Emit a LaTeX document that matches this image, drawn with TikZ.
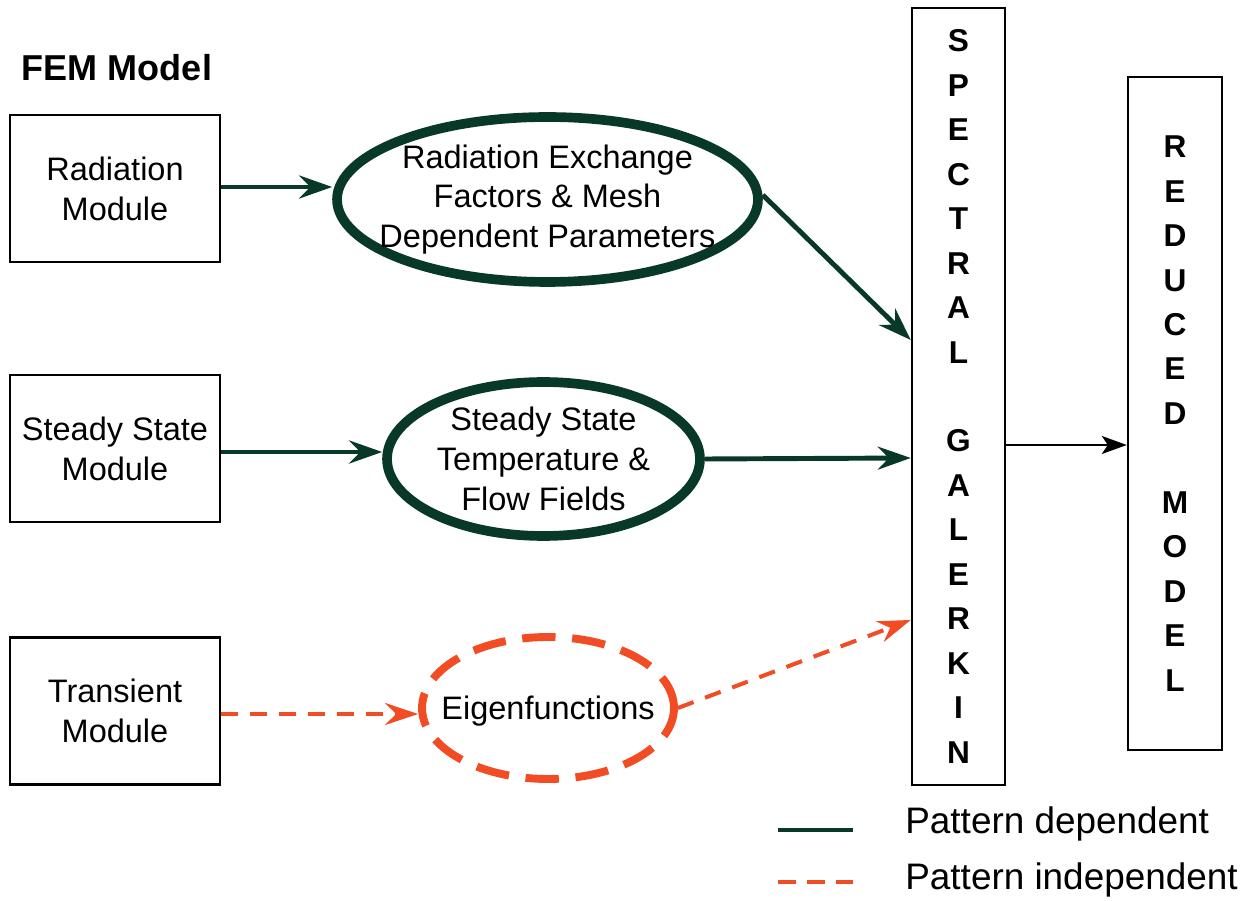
\documentclass[tikz,border=0pt]{standalone}
\usepackage{fontspec}
\setmainfont{Liberation Sans}
\usetikzlibrary{arrows.meta,positioning,shapes.geometric}

\definecolor{depgreen}{RGB}{8,56,40}
\definecolor{indorange}{RGB}{242,76,36}

\tikzset{
  module/.style={draw,line width=1.2pt,minimum width=4.2cm,minimum height=2.94cm,
    align=center,font=\fontsize{18.5}{22.7}\selectfont},
  field/.style={ellipse,draw=depgreen,line width=5.5pt,inner sep=0pt},
  eigfield/.style={ellipse,draw=indorange,line width=4.5pt,inner sep=0pt,
    dash pattern=on 19pt off 9.5pt},
  fieldtext/.style={align=center,font=\fontsize{18.5}{22.7}\selectfont},
  tallbox/.style={draw,line width=1.4pt,align=center,
    font=\fontsize{18}{25.3}\selectfont\bfseries},
  dep/.style={-{Stealth[length=6.6mm,width=4.6mm,inset=2.2mm]},line width=2.8pt,color=depgreen},
  indep/.style={-{Stealth[length=6.6mm,width=4.4mm,inset=2.2mm]},line width=2.3pt,
    color=indorange,dash pattern=on 9.5pt off 7pt},
}

\begin{document}
\begin{tikzpicture}[x=0.02cm,y=-0.02cm]
\useasboundingbox (0,0) rectangle (1244,901);

\node[font=\fontsize{20.5}{24}\selectfont\bfseries] (FEM) at (117,68) {FEM Model};

% modules of the FEM model
\node[module] (RM) at (115,188.5) {Radiation\\Module};
\node[module] (SM) at (115,448.5) {Steady State\\Module};
\node[module] (TM) at (115,711) {Transient\\Module};

% what each module produces
\node[field,minimum width=8.42cm,minimum height=3.3cm,
  label={[fieldtext]center:Radiation Exchange\\Factors \& Mesh\\Dependent Parameters}] (REF) at (547.5,199.5) {};
\node[field,minimum width=6.26cm,minimum height=3.08cm,
  label={[fieldtext]center:Steady State\\Temperature \&\\Flow Fields}] (STF) at (543.5,459) {};
\node[eigfield,minimum width=5.04cm,minimum height=2.84cm,
  label={[fieldtext,yshift=-0.06cm]center:Eigenfunctions}] (EIG) at (548,708) {};

% projection and result
\node[tallbox,minimum width=1.86cm,minimum height=15.54cm] (SG) at (958.5,396.5)
  {S\\P\\E\\C\\T\\R\\A\\L\\[25.3pt]G\\A\\L\\E\\R\\K\\I\\N};
\node[tallbox,minimum width=1.88cm,minimum height=13.46cm] (RED) at (1175,413.5)
  {R\\E\\D\\U\\C\\E\\D\\[25.3pt]M\\O\\D\\E\\L};

\coordinate (sg1) at ([yshift=1.13cm]SG.west);
\coordinate (sg2) at ([yshift=-1.23cm]SG.west);
\coordinate (sg3) at ([yshift=-4.47cm]SG.west);
\coordinate (out) at ([yshift=-0.97cm]SG.east);

\draw[dep] ([yshift=0.03cm]RM.east) -- ([yshift=0.03cm]RM.east -| REF.west);
\draw[dep] ([yshift=-0.07cm]SM.east) -- ([yshift=-0.07cm]SM.east -| STF.west);
\draw[indep] ([yshift=-0.06cm]TM.east) -- ([yshift=-0.06cm]TM.east -| EIG.west);
\draw[dep] ([yshift=0.09cm]REF.east) -- (sg1);
\draw[dep] (STF.east) -- (sg2);
\draw[indep] (EIG.east) -- (sg3);
\draw[-{Stealth[length=5mm,width=3.6mm,inset=1.2mm]},line width=1pt] (out) -- (out -| RED.west);

% legend
\coordinate (L1) at (778,830);
\coordinate (L2) at (853,830);
\coordinate (L3) at (778,882);
\coordinate (L4) at (853,882);
\draw[line width=1.8pt,color=depgreen] (L1) -- (L2);
\draw[line width=2pt,color=indorange,dash pattern=on 10pt off 6.5pt] (L3) -- (L4);
\node[anchor=west,inner sep=0pt,font=\fontsize{21}{24}\selectfont] (PD) at (905,824) {Pattern dependent};
\node[anchor=west,inner sep=0pt,font=\fontsize{21}{24}\selectfont] (PI) at (905,880) {Pattern independent};
\end{tikzpicture}
\end{document}
